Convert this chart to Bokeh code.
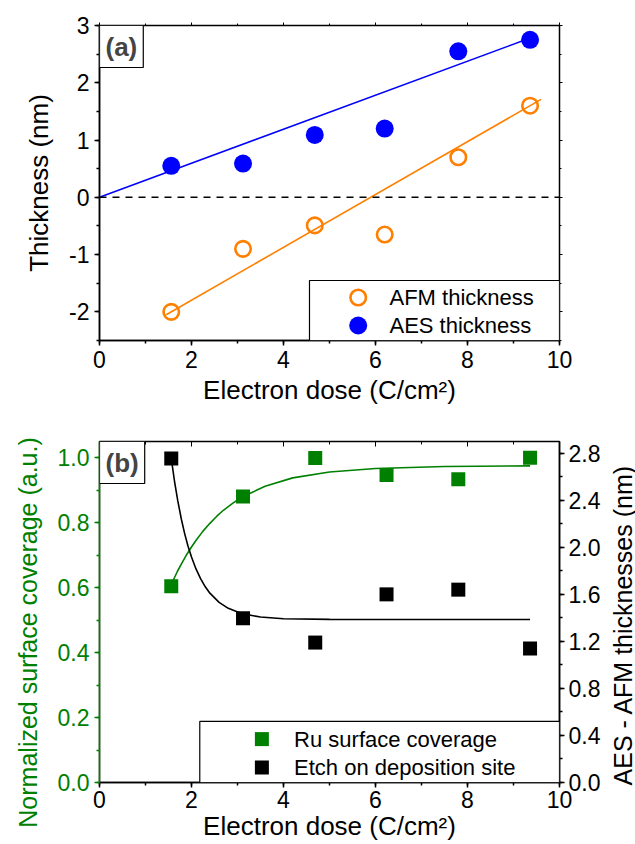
import math
from bokeh.plotting import figure
from bokeh.models import (Range1d, LinearAxis, SingleIntervalTicker, PrintfTickFormatter,
                          Label, Span, BoxAnnotation)
from bokeh.core.properties import value
from bokeh.layouts import column
from bokeh.embed import file_html
from bokeh.resources import INLINE

FONT = "Liberation Sans"
TICK_FS = "23px"
TITLE_FS = "26px"
LEG_FS = "22px"

# ---------------- Panel (a) data ----------------
dose_a = [1.56, 3.12, 4.68, 6.2, 7.8, 9.36]
afm_thickness = [-2.0, -0.9, -0.49, -0.65, 0.7, 1.6]
aes_thickness = [0.55, 0.59, 1.09, 1.2, 2.55, 2.75]
aes_fit_x = [0.0, 9.36]
aes_fit_y = [0.0, 2.78]
afm_fit_x = [1.45, 9.6]
afm_fit_y = [-2.05, 1.71]
legend_a_labels = ["AFM thickness", "AES thickness"]

# ---------------- Panel (b) data ----------------
dose_b = [1.56, 3.12, 4.69, 6.24, 7.8, 9.36]
ru_coverage = [0.604, 0.881, 0.999, 0.947, 0.934, 1.0]
etch_depth = [2.755, 1.397, 1.19, 1.60, 1.64, 1.14]
ru_fit_x = [1.56, 1.6, 1.7, 1.8, 1.9, 2.0, 2.1, 2.25, 2.4, 2.55, 2.7, 2.9, 3.1, 3.6, 4.2, 5.0, 6.0, 7.5, 9.36]
ru_fit_y = [0.610, 0.622, 0.652, 0.678, 0.703, 0.725, 0.746, 0.774, 0.798, 0.820, 0.839, 0.860,
            0.879, 0.912, 0.938, 0.956, 0.967, 0.973, 0.975]
etch_fit_x = [1.56, 1.63, 1.7, 1.78, 1.85, 1.92, 2.0, 2.1, 2.2, 2.3, 2.4, 2.6, 2.8, 3.1, 3.5, 4.0, 5.0, 9.36]
etch_fit_y = [2.756, 2.564, 2.399, 2.239, 2.119, 2.016, 1.917, 1.814, 1.731, 1.664, 1.610, 1.532,
              1.481, 1.436, 1.407, 1.393, 1.387, 1.386]
legend_b_labels = ["Ru surface coverage", "Etch on deposition site"]

x_title = "Electron dose (C/cm\u00b2)"
left_b_title = "Normalized surface coverage (a.u.)"
right_b_title = "AES - AFM thicknesses (nm)"

ORANGE = "#FF8000"
BLUE = "#0000FF"
GREEN = "#008000"


def style_axis(ax, color="black", labels=True, tick_in=0, tick_out=5, minor_out=3, width=1.5):
    ax.axis_line_color = color
    ax.axis_line_width = width
    ax.major_tick_line_color = color
    ax.minor_tick_line_color = color
    ax.major_tick_line_width = width
    ax.minor_tick_line_width = width
    ax.major_tick_in = tick_in
    ax.major_tick_out = tick_out
    ax.minor_tick_in = 0 if tick_in == 0 else max(tick_in - 2, 1)
    ax.minor_tick_out = minor_out if tick_out else 0
    ax.major_label_text_font = FONT
    ax.major_label_text_font_size = TICK_FS
    ax.major_label_text_color = color if labels else None
    ax.major_label_standoff = 5
    ax.axis_label_text_font = FONT
    ax.axis_label_text_font_size = TITLE_FS
    ax.axis_label_text_font_style = "normal"
    ax.axis_label_text_color = color


def base_fig(height, top, bottom, left, right, xr, yr):
    p = figure(width=635, height=height, x_range=xr, y_range=yr,
               output_backend="svg", toolbar_location=None,
               min_border_top=top, min_border_bottom=bottom,
               min_border_left=left, min_border_right=right)
    p.xgrid.visible = False
    p.ygrid.visible = False
    p.outline_line_color = "black"
    p.outline_line_width = 1.5
    p.background_fill_color = "white"
    p.border_fill_color = "white"
    return p


def legend_box(p, left, right, bottom, top):
    p.add_layout(BoxAnnotation(left=left, right=right, bottom=bottom, top=top,
                               fill_color="white", fill_alpha=1.0,
                               line_color="black", line_width=1.2, line_alpha=1.0))


# ================= Panel (a) =================
pa = base_fig(420, 25, 80, 99, 76, Range1d(0, 10), Range1d(-2.5, 3))
pa.xaxis.ticker = SingleIntervalTicker(interval=2, num_minor_ticks=2)
pa.yaxis.ticker = SingleIntervalTicker(interval=1, num_minor_ticks=2)
pa.xaxis.formatter = PrintfTickFormatter(format="%d")
pa.yaxis.formatter = PrintfTickFormatter(format="%d")
pa.xaxis.axis_label = x_title
pa.yaxis.axis_label = "Thickness (nm)"
style_axis(pa.xaxis[0])
style_axis(pa.yaxis[0])
pa.xaxis.axis_label_standoff = 4
pa.yaxis.axis_label_standoff = 12

top_a = LinearAxis(ticker=SingleIntervalTicker(interval=2, num_minor_ticks=2))
style_axis(top_a, labels=False, tick_out=3, minor_out=2, width=1)
right_a = LinearAxis(ticker=SingleIntervalTicker(interval=1, num_minor_ticks=2))
style_axis(right_a, labels=False, tick_out=3, minor_out=2, width=1)
pa.add_layout(top_a, "above")
pa.add_layout(right_a, "right")

pa.add_layout(Span(location=0, dimension="width", line_color="black",
                   line_width=1.5, line_dash="7 6"))
pa.line(aes_fit_x, aes_fit_y, line_color=BLUE, line_width=1.6)
pa.line(afm_fit_x, afm_fit_y, line_color=ORANGE, line_width=1.6)
pa.scatter(dose_a, afm_thickness, marker="circle", size=15.5,
           fill_color=None, line_color=ORANGE, line_width=2.6)
pa.scatter(dose_a, aes_thickness, marker="circle", size=18,
           fill_color=BLUE, line_color=BLUE, line_width=0)

# legend (a), drawn at the bottom-right corner of the frame
legend_box(pa, 4.565, 10, -2.5, -1.452)
pa.scatter([5.624], [-1.749], marker="circle", size=15.5, fill_color=None,
           line_color=ORANGE, line_width=2.6, level="overlay")
pa.scatter([5.624], [-2.238], marker="circle", size=18, fill_color=BLUE,
           line_color=BLUE, line_width=0, level="overlay")
pa.text([6.304, 6.304], [-1.749, -2.238], text=legend_a_labels,
        text_font=value(FONT), text_font_size=LEG_FS, text_baseline="middle",
        text_align="left", text_color="black", level="overlay")

pa.add_layout(Label(x=0, y=3, text="(a)", anchor="top_left", text_font=FONT,
                    text_font_size="26px", text_font_style="bold",
                    border_line_color="black", border_line_width=1.2,
                    background_fill_color="white", padding=6))

# ================= Panel (b) =================
pb = base_fig(424, 21, 62, 97, 76, Range1d(0, 10), Range1d(0, 1.05))
pb.extra_y_ranges = {"etch": Range1d(0, 2.9)}
pb.xaxis.ticker = SingleIntervalTicker(interval=2, num_minor_ticks=2)
pb.yaxis.ticker = SingleIntervalTicker(interval=0.2, num_minor_ticks=2)
pb.xaxis.formatter = PrintfTickFormatter(format="%d")
pb.yaxis.formatter = PrintfTickFormatter(format="%.1f")
pb.xaxis.axis_label = x_title
style_axis(pb.xaxis[0])
style_axis(pb.yaxis[0], color=GREEN)
pb.xaxis.major_label_standoff = 3
pb.xaxis.axis_label_standoff = 0

right_b = LinearAxis(y_range_name="etch",
                     ticker=SingleIntervalTicker(interval=0.4, num_minor_ticks=2),
                     formatter=PrintfTickFormatter(format="%.1f"))
style_axis(right_b)
right_b.major_label_standoff = 4
pb.add_layout(right_b, "right")
top_b = LinearAxis(ticker=SingleIntervalTicker(interval=2, num_minor_ticks=2))
style_axis(top_b, labels=False, tick_in=5, tick_out=0, width=1)
pb.add_layout(top_b, "above")

# side titles of panel (b), read bottom-to-top, placed in the side panels
pb.add_layout(Label(x=0, y=0.462, x_offset=-72, text=left_b_title, angle=math.pi / 2,
                    text_align="center", text_baseline="middle", text_font=FONT,
                    text_font_size="25px", text_color=GREEN), "left")
pb.add_layout(Label(x=10, y=0.485, x_offset=63, text=right_b_title, angle=math.pi / 2,
                    text_align="center", text_baseline="middle", text_font=FONT,
                    text_font_size="25px", text_color="black"), "right")

pb.line(ru_fit_x, ru_fit_y, line_color=GREEN, line_width=1.6)
pb.line(etch_fit_x, etch_fit_y, line_color="black", line_width=1.6, y_range_name="etch")
pb.scatter(dose_b, ru_coverage, marker="square", size=14,
           fill_color=GREEN, line_color=GREEN, line_width=0)
pb.scatter(dose_b, etch_depth, marker="square", size=14,
           fill_color="black", line_color="black", line_width=0, y_range_name="etch")

# legend (b), drawn at the bottom-right corner of the frame
legend_box(pb, 2.18, 10, 0, 0.188)
pb.scatter([3.53], [0.1336], marker="square", size=14, fill_color=GREEN,
           line_color=GREEN, line_width=0, level="overlay")
pb.scatter([3.53], [0.0462], marker="square", size=14, fill_color="black",
           line_color="black", line_width=0, level="overlay")
pb.text([4.23, 4.23], [0.1336, 0.0462], text=legend_b_labels,
        text_font=value(FONT), text_font_size=LEG_FS, text_baseline="middle",
        text_align="left", text_color="black", level="overlay")

pb.add_layout(Label(x=0, y=1.05, text="(b)", anchor="top_left", text_font=FONT,
                    text_font_size="26px", text_font_style="bold",
                    border_line_color="black", border_line_width=1.2,
                    background_fill_color="white", padding=6))

layout = column(pa, pb, spacing=0)
open("out.html", "w").write(file_html(layout, INLINE))
